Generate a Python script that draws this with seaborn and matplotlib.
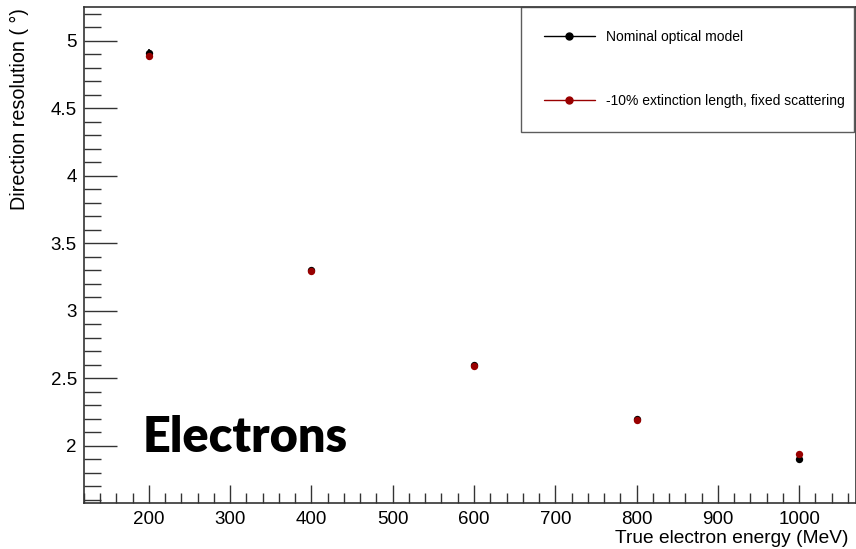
import numpy as np
import pandas as pd
import matplotlib
matplotlib.use('Agg')
import matplotlib.pyplot as plt
import seaborn as sns
from matplotlib.lines import Line2D
from matplotlib.ticker import MultipleLocator, FuncFormatter

# Data
energy = [200, 400, 600, 800, 1000]
nominal = [4.91, 3.30, 2.60, 2.20, 1.90]
nominal_err = [0.03, 0.015, 0.012, 0.012, 0.012]
ext_minus10 = [4.89, 3.295, 2.595, 2.19, 1.94]
ext_minus10_err = [0.03, 0.015, 0.012, 0.012, 0.012]
series_labels = ['Nominal optical model', '-10% extinction length, fixed scattering']
series_colors = ['black', '#990000']

df = pd.DataFrame({
    'energy': energy * 2,
    'resolution': nominal + ext_minus10,
    'err': nominal_err + ext_minus10_err,
    'model': [series_labels[0]] * 5 + [series_labels[1]] * 5,
})

sns.set_style('ticks')
plt.rcParams['font.family'] = ['Liberation Sans', 'DejaVu Sans']
plt.rcParams['text.color'] = 'black'
plt.rcParams['axes.labelcolor'] = 'black'
plt.rcParams['xtick.color'] = '#333333'
plt.rcParams['ytick.color'] = '#333333'
plt.rcParams['xtick.labelcolor'] = 'black'
plt.rcParams['ytick.labelcolor'] = 'black'

fig = plt.figure(figsize=(8.56, 5.49), dpi=100)
ax = fig.add_axes([0.098, 0.0844, 0.902, 0.9026])

for label, color in zip(series_labels, series_colors):
    sub = df[df['model'] == label]
    ax.errorbar(sub['energy'], sub['resolution'], yerr=sub['err'], fmt='none',
                ecolor=color, elinewidth=1.2, capsize=0, zorder=2)
    sns.scatterplot(data=sub, x='energy', y='resolution', color=color, s=28,
                    edgecolor=color, linewidth=0, ax=ax, zorder=3, legend=False)

ax.set_xlim(120, 1070)
ax.set_ylim(1.58, 5.25)
ax.xaxis.set_major_locator(MultipleLocator(100))
ax.xaxis.set_minor_locator(MultipleLocator(20))
ax.yaxis.set_major_locator(MultipleLocator(0.5))
ax.yaxis.set_minor_locator(MultipleLocator(0.1))
ax.yaxis.set_major_formatter(FuncFormatter(lambda v, p: f'{v:g}'))
ax.tick_params(axis='x', which='major', direction='in', length=13, width=1, labelsize=13.5, pad=6)
ax.tick_params(axis='x', which='minor', direction='in', length=7, width=1)
ax.tick_params(axis='y', which='major', direction='in', length=24, width=1, labelsize=13.5, pad=5)
ax.tick_params(axis='y', which='minor', direction='in', length=12, width=1)
for s in ax.spines.values():
    s.set_linewidth(1.2)
    s.set_color('#333333')

ax.set_xlabel('True electron energy (MeV)', fontsize=13.8)
ax.set_ylabel('Direction resolution ( °)', fontsize=14.2)
ax.xaxis.set_label_coords(0.99, -0.073)
ax.xaxis.label.set_horizontalalignment('right')
ax.xaxis.label.set_verticalalignment('center')
ax.yaxis.set_label_coords(-0.084, 0.998)
ax.yaxis.label.set_horizontalalignment('right')
ax.yaxis.label.set_verticalalignment('center')

ax.text(0.0765, 0.102, 'Electrons', transform=ax.transAxes, fontsize=35,
        fontweight='heavy', va='baseline', color='black', family=['Lato', 'DejaVu Sans'])

handles = [Line2D([0], [0], color=c, lw=1, marker='o', markersize=5) for c in series_colors]
leg = ax.legend(handles, series_labels, loc='upper left',
                bbox_to_anchor=(0.5655, 0.752, 0.432, 0.248), mode='expand',
                fontsize=10, frameon=True, fancybox=False, borderaxespad=0,
                borderpad=1.67, labelspacing=3.6, handlelength=3.67, handletextpad=0.8)
leg.get_frame().set_edgecolor('#333333')
leg.get_frame().set_linewidth(1.0)

fig.savefig('out.png', dpi=100)
